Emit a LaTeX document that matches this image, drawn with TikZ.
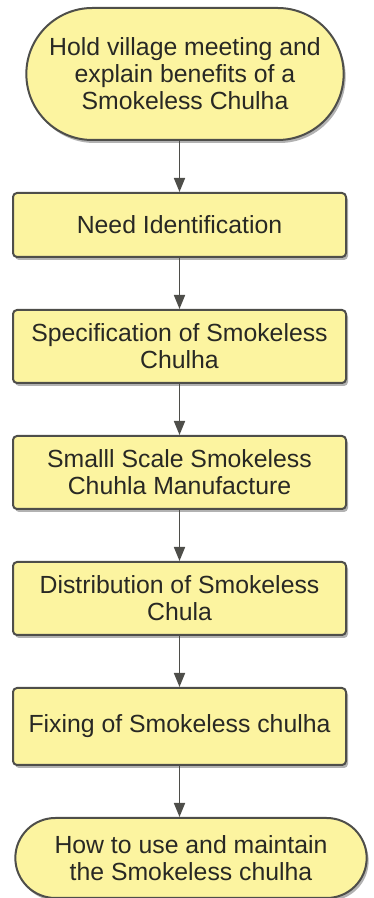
\documentclass[tikz,border=0pt]{standalone}
\usepackage{fontspec}
\setmainfont{Liberation Sans}
\usetikzlibrary{arrows.meta,positioning,shapes.misc,shadows}
\definecolor{chulhafill}{RGB}{252,244,160}
\definecolor{chulhaline}{RGB}{78,78,74}
\definecolor{chulhatext}{RGB}{40,40,36}
\tikzset{
    boxshadow/.style={drop shadow={shadow xshift=2pt,shadow yshift=-3pt,opacity=0.3,fill=black}},
    flowterm/.style={rounded rectangle,draw=chulhaline,fill=chulhafill,line width=2pt,align=center,text=chulhatext,font=\fontsize{24.8}{27}\selectfont,boxshadow},
    flowstep/.style={rectangle,draw=chulhaline,fill=chulhafill,line width=2pt,rounded corners=4pt,align=center,text=chulhatext,font=\fontsize{24.8}{27}\selectfont,minimum width=333pt,minimum height=73pt,inner sep=10pt,boxshadow},
    flowline/.style={-{Triangle[length=14pt,width=11pt]},line width=1.6pt,draw=chulhaline}
}
\begin{document}
\begin{tikzpicture}[x=1pt,y=1pt,node distance=51pt]
        \useasboundingbox (0,0) rectangle (374,898);
        \node[flowterm,minimum width=324pt,minimum height=132pt] (meeting) at (185,824) {Hold village meeting and\\explain benefits of a\\Smokeless Chulha};
        \node[flowstep,minimum height=64pt,below=of meeting,xshift=-5.5pt] (need) {Need Identification};
        \node[flowstep,below=of need] (spec) {Specification of Smokeless\\Chulha};
        \node[flowstep,below=of spec] (make) {Smalll Scale Smokeless\\Chuhla Manufacture};
        \node[flowstep,below=of make] (distrib) {Distribution of Smokeless\\Chula};
        \node[flowstep,minimum height=77pt,below=of distrib] (fixing) {Fixing of Smokeless chulha};
        \node[flowterm,minimum width=358pt,minimum height=80pt,below=of fixing,xshift=11.5pt] (usage) {How to use and maintain\\the Smokeless chulha};
        \draw[flowline] (need.north |- meeting.south) -- (need);
        \draw[flowline] (need) -- (spec);
        \draw[flowline] (spec) -- (make);
        \draw[flowline] (make) -- (distrib);
        \draw[flowline] (distrib) -- (fixing);
        \draw[flowline] (fixing) -- (fixing.south |- usage.north);
    \end{tikzpicture}
\end{document}
